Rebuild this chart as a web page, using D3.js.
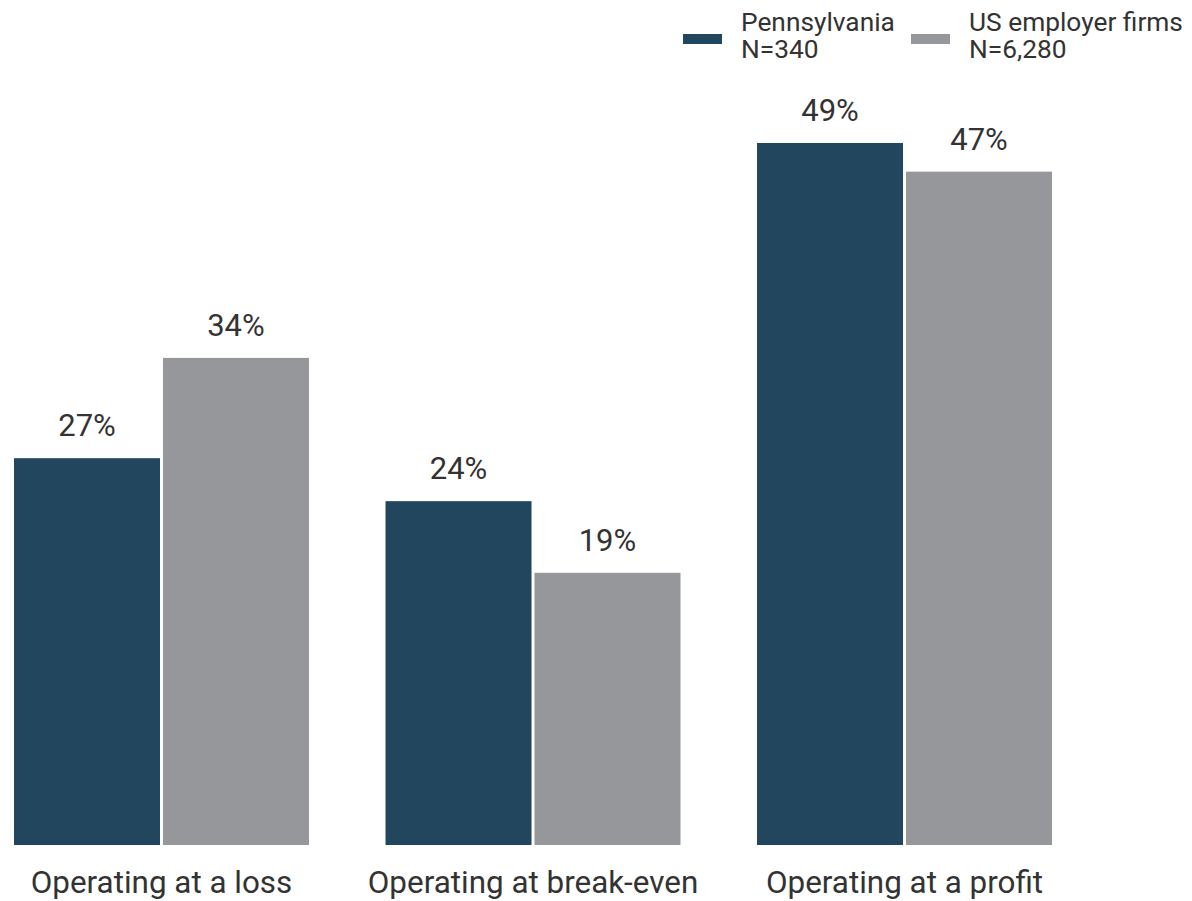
<!DOCTYPE html>
<html><head><meta charset="utf-8">
<script src="https://cdn.jsdelivr.net/npm/d3@7"></script>
<style>body{margin:0;background:#fff}svg{display:block;font-family:Roboto,sans-serif}</style>
</head><body>
<script>
const categories = ["Operating at a loss", "Operating at break-even", "Operating at a profit"];
const seriesNames = ["Pennsylvania", "US employer firms"];
const seriesN = ["N=340", "N=6,280"];
const pennsylvania = [27, 24, 49];
const usFirms = [34, 19, 47];
const colors = ["#21465d", "#96979b"];

const W = 1192, H = 901;
const svg = d3.select("body").append("svg").attr("width", W).attr("height", H);

const x0 = d3.scaleBand().domain(categories).range([14, 1052]).paddingInner(0.206);
const x1 = d3.scaleBand().domain(seriesNames).range([0, x0.bandwidth()]).paddingInner(0.02);
const y = d3.scaleLinear().domain([0, 49]).range([845, 143]);

const data = categories.map((c, i) => ({cat: c, vals: [pennsylvania[i], usFirms[i]]}));

const g = svg.selectAll("g.grp").data(data).join("g").attr("class", "grp")
  .attr("transform", d => `translate(${x0(d.cat)},0)`);

g.selectAll("rect").data(d => d.vals.map((v, j) => ({v, s: seriesNames[j], j})))
  .join("rect")
  .attr("x", d => x1(d.s)).attr("width", x1.bandwidth())
  .attr("y", d => y(d.v)).attr("height", d => y(0) - y(d.v))
  .attr("fill", d => colors[d.j]);

g.selectAll("text.val").data(d => d.vals.map((v, j) => ({v, s: seriesNames[j]})))
  .join("text").attr("class", "val")
  .attr("x", d => x1(d.s) + x1.bandwidth() / 2)
  .attr("y", d => y(d.v) - 22)
  .attr("text-anchor", "middle").attr("font-size", 31).attr("fill", "#333")
  .text(d => d.v + "%");

svg.selectAll("text.cat").data(categories).join("text").attr("class", "cat")
  .attr("x", d => x0(d) + x0.bandwidth() / 2).attr("y", 893)
  .attr("text-anchor", "middle").attr("font-size", 31.4).attr("fill", "#333")
  .text(d => d);

// legend
const legX = [683, 911];
const lg = svg.selectAll("g.leg").data(seriesNames).join("g").attr("class", "leg")
  .attr("transform", (d, i) => `translate(${legX[i]},0)`);
lg.append("rect").attr("x", 0).attr("y", 34).attr("width", 39).attr("height", 10)
  .attr("fill", (d, i) => colors[i]);
const lt = lg.append("text").attr("font-size", 26.3).attr("fill", "#333");
lt.append("tspan").attr("x", 58).attr("y", 31).text(d => d);
lt.append("tspan").attr("x", 58).attr("y", 58).text((d, i) => seriesN[i]);
</script>
</body></html>
